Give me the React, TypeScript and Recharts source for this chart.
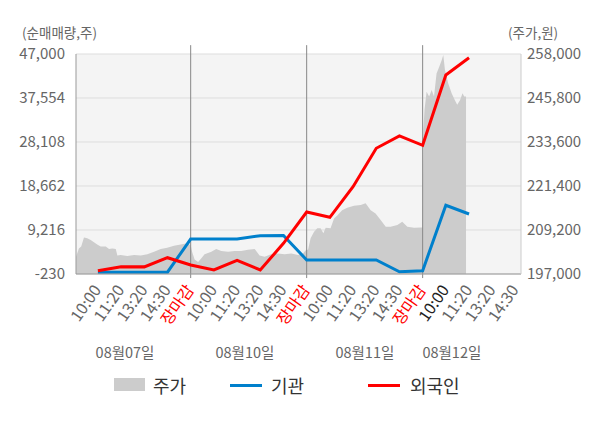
import React from 'react';
import { ComposedChart, Line, Area, XAxis, YAxis, CartesianGrid, ReferenceLine } from 'recharts';

const FONT = '"Noto Sans CJK KR", "Noto Sans", sans-serif';

const timeLabels = [
  '10:00', '11:20', '13:20', '14:30', '장마감',
  '10:00', '11:20', '13:20', '14:30', '장마감',
  '10:00', '11:20', '13:20', '14:30', '장마감',
  '10:00', '11:20', '13:20', '14:30',
];
const slotTicks = timeLabels.map((_, i) => i);
const closeSlots = [4, 9, 14];
const currentSlot = 15;

const dateLabels = ['08월07일', '08월10일', '08월11일', '08월12일'];
const dateSlots = [1.17, 6.34, 11.51, 15.26];

const institutionNet = [150, 150, 150, 150, 7280, 7280, 7280, 7990, 8060, 2780, 2780, 2780, 2780, 260, 480, 14520, 12650];
const foreignNet = [480, 1340, 1300, 3270, 1700, 630, 2710, 630, 6360, 13080, 11940, 18510, 26760, 29400, 27400, 42500, 46210];

const netTicks = [-230, 9216, 18662, 28108, 37554, 47000];
const priceTicks = [197000, 209200, 221400, 233600, 245800, 258000];

const day1Price: [number, number][] = [
  [-0.94, 201800], [-0.82, 204100], [-0.72, 204600], [-0.6, 207100], [-0.46, 206900], [-0.31, 206400],
  [-0.17, 205800], [-0.03, 205200], [0.12, 204600], [0.34, 204600], [0.48, 203900], [0.62, 204100],
  [0.77, 203900], [0.84, 202100], [0.98, 202300], [1.27, 202000], [1.56, 202300], [1.85, 202100],
  [2.13, 202500], [2.42, 203200], [2.71, 203900], [2.99, 204300], [3.28, 204800], [3.57, 205200],
  [3.85, 205500], [4.0, 205000],
];
const day2Price: [number, number][] = [
  [4.06, 203200], [4.17, 201000], [4.32, 200300], [4.46, 201400], [4.6, 202500], [4.89, 203200],
  [5.1, 203900], [5.32, 203400], [5.61, 203200], [5.9, 203400], [6.18, 203400], [6.47, 203700],
  [6.76, 203900], [6.97, 202100], [7.19, 201800], [7.47, 202500], [7.76, 202700], [8.05, 202500],
  [8.34, 202700], [8.63, 202300], [8.84, 202700], [8.98, 203700],
];
const day3Price: [number, number][] = [
  [9.06, 203700], [9.17, 206900], [9.32, 208700], [9.46, 209700], [9.6, 209700], [9.72, 208300],
  [9.82, 209800], [10.03, 209700], [10.18, 212400], [10.32, 213200], [10.53, 214700], [10.75, 215400],
  [11.04, 215900], [11.33, 216100], [11.54, 216600], [11.76, 214700], [11.97, 213800], [12.19, 212000],
  [12.41, 210100], [12.62, 210100], [12.91, 210600], [13.12, 211500], [13.34, 210100], [13.63, 209800],
  [13.94, 209900], [14.0, 209900],
];
const day4Price: [number, number][] = [
  [14.03, 236900], [14.08, 242500], [14.17, 247500], [14.28, 246200], [14.39, 248000], [14.49, 246200],
  [14.6, 252600], [14.72, 254500], [14.82, 256300], [14.89, 257700], [14.96, 253600], [15.1, 249900],
  [15.25, 247100], [15.39, 245200], [15.49, 243900], [15.61, 245200], [15.72, 247100], [15.79, 246200],
  [15.87, 246200],
];

const lineData = institutionNet.map((v, i) => ({ slot: i, inst: v, foreign: foreignNet[i] }));
const priceData = [...day1Price, ...day2Price, ...day3Price, ...day4Price].map(([slot, price]) => ({ slot, price }));
const dateData = dateSlots.map((slot) => ({ slot, anchor: netTicks[0] }));

const X_DOMAIN: [number, number] = [-0.944, 18.24];
const fmt = (v: number) => v.toLocaleString('en-US');

const TimeTick = (props: any) => {
  const { x, y, payload } = props;
  const i = payload.value as number;
  const label = timeLabels[i];
  const color = closeSlots.includes(i) ? '#ff0000' : i === currentSlot ? '#222222' : '#666666';
  const ax = x + 4;
  const ay = y + 8;
  return (
    <text x={ax} y={ay} transform={`rotate(-55 ${ax} ${ay})`} textAnchor="end" fill={color} fontSize={16} fontFamily={FONT}>
      {label}
    </text>
  );
};

const DateTick = (props: any) => {
  const { x, y, payload } = props;
  const idx = dateSlots.indexOf(payload.value);
  return (
    <text x={x} y={y} dy={14} textAnchor="middle" fill="#666666" fontSize={14.5} fontFamily={FONT}>
      {dateLabels[idx]}
    </text>
  );
};

const legendText: React.CSSProperties = { position: 'absolute', top: 0, fontSize: 18, color: '#333', fontFamily: FONT, lineHeight: '26px' };

export default function App() {
  return (
    <div style={{ position: 'absolute', left: 0, top: 0, width: 600, height: 428, background: '#fff', fontFamily: FONT }}>
      <div style={{ position: 'absolute', left: 22, top: 22, fontSize: 13.5, color: '#666', lineHeight: '20px' }}>(순매매량,주)</div>
      <div style={{ position: 'absolute', left: 508, top: 22, fontSize: 13.5, color: '#666', lineHeight: '20px' }}>(주가,원)</div>
      <ComposedChart width={600} height={370} margin={{ top: 54, right: 0, bottom: 0, left: 0 }}>
        <CartesianGrid xAxisId="a" yAxisId="left" vertical={false} stroke="#dddddd" fill="#f4f4f4" />
        <XAxis
          xAxisId="a"
          type="number"
          dataKey="slot"
          domain={X_DOMAIN}
          allowDataOverflow
          ticks={slotTicks}
          interval={0}
          tick={<TimeTick />}
          tickLine={false}
          axisLine={{ stroke: '#999999' }}
          height={62}
        />
        <XAxis
          xAxisId="b"
          type="number"
          dataKey="slot"
          domain={X_DOMAIN}
          allowDataOverflow
          ticks={dateSlots}
          interval={0}
          tick={<DateTick />}
          tickLine={false}
          axisLine={false}
          height={34}
        />
        <YAxis
          yAxisId="left"
          orientation="left"
          width={76}
          domain={[-230, 47000]}
          ticks={netTicks}
          interval={0}
          allowDataOverflow
          tickFormatter={fmt}
          tick={{ fill: '#666666', fontSize: 15, fontFamily: FONT }}
          tickLine={false}
          tickMargin={5}
          axisLine={{ stroke: '#999999' }}
        />
        <YAxis
          yAxisId="right"
          orientation="right"
          width={79}
          domain={[197000, 258000]}
          ticks={priceTicks}
          interval={0}
          allowDataOverflow
          tickFormatter={fmt}
          tick={{ fill: '#666666', fontSize: 15, fontFamily: FONT }}
          tickLine={false}
          tickMargin={0}
          axisLine={{ stroke: '#cccccc' }}
        />
        <Area
          xAxisId="a"
          yAxisId="right"
          data={priceData}
          dataKey="price"
          type="linear"
          stroke="none"
          fill="#cccccc"
          fillOpacity={1}
          isAnimationActive={false}
        />
        {closeSlots.map((s) => (
          <ReferenceLine
            key={s}
            xAxisId="a"
            yAxisId="left"
            ifOverflow="visible"
            segment={[{ x: s, y: 48900 }, { x: s, y: -1100 }]}
            stroke="#888888"
            strokeWidth={1}
          />
        ))}
        <Line
          xAxisId="b"
          yAxisId="left"
          data={dateData}
          dataKey="anchor"
          stroke="none"
          dot={false}
          activeDot={false}
          legendType="none"
          isAnimationActive={false}
        />
        <Line
          xAxisId="a"
          yAxisId="left"
          data={lineData}
          dataKey="inst"
          type="linear"
          stroke="#0080cc"
          strokeWidth={3}
          dot={false}
          isAnimationActive={false}
        />
        <Line
          xAxisId="a"
          yAxisId="left"
          data={lineData}
          dataKey="foreign"
          type="linear"
          stroke="#ff0000"
          strokeWidth={3}
          dot={false}
          isAnimationActive={false}
        />
      </ComposedChart>
      <div style={{ position: 'absolute', left: 0, top: 372, width: 600, height: 26 }}>
        <div style={{ position: 'absolute', left: 114, top: 6, width: 31, height: 13, background: '#cccccc' }} />
        <div style={{ ...legendText, left: 153 }}>주가</div>
        <div style={{ position: 'absolute', left: 230, top: 12, width: 32, height: 3, background: '#0080cc' }} />
        <div style={{ ...legendText, left: 271 }}>기관</div>
        <div style={{ position: 'absolute', left: 368, top: 12, width: 32, height: 3, background: '#ff0000' }} />
        <div style={{ ...legendText, left: 410 }}>외국인</div>
      </div>
    </div>
  );
}
